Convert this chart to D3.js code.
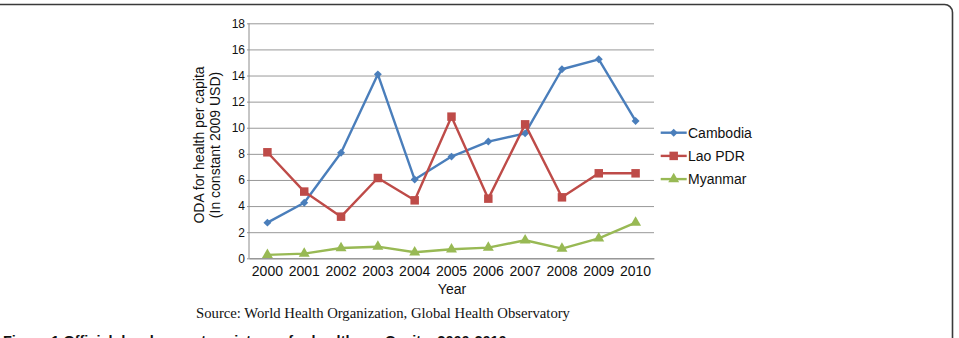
<!DOCTYPE html>
<html>
<head>
<meta charset="utf-8">
<script src="https://cdn.jsdelivr.net/npm/d3@7"></script>
<style>
  body { margin: 0; background: #fff; }
  svg { display: block; font-family: "Liberation Sans", Arial, sans-serif; }
  text { fill: #111; }
</style>
</head>
<body>
<svg id="chart"></svg>
<script>
const years = ["2000","2001","2002","2003","2004","2005","2006","2007","2008","2009","2010"];
const cambodia = [2.73, 4.26, 8.09, 14.09, 6.03, 7.79, 8.94, 9.57, 14.48, 15.24, 10.52];
const laoPDR   = [8.12, 5.11, 3.19, 6.15, 4.44, 10.85, 4.57, 10.26, 4.67, 6.51, 6.51];
const myanmar  = [0.26, 0.36, 0.79, 0.89, 0.46, 0.69, 0.82, 1.38, 0.74, 1.53, 2.73];
const seriesNames = ["Cambodia", "Lao PDR", "Myanmar"];
const yTicks = [0, 2, 4, 6, 8, 10, 12, 14, 16, 18];

const width = 959, height = 338;
const plotLeft = 249, plotRight = 654, plotTop = 23.3, plotBottom = 258.3;
const colors = ["#4a7ebb", "#be4b48", "#98b954"];
const symbols = [d3.symbolDiamond2, d3.symbolSquare, d3.symbolTriangle];
const symbolSizes = [40, 72, 52];

const svg = d3.select("#chart").attr("width", width).attr("height", height);

// frame of the figure box
svg.append("path")
  .attr("d", "M-5,4.5 L944,4.5 A8,8 0 0 1 952.5,12.5 L952.5,345")
  .attr("fill", "none").attr("stroke", "#3a3a3a").attr("stroke-width", 1.6);

const x = d3.scaleBand().domain(years).range([plotLeft, plotRight]).padding(0);
const y = d3.scaleLinear().domain([0, 18]).range([plotBottom, plotTop]);

// gridlines + y axis
svg.append("g")
  .attr("transform", `translate(${plotLeft},0)`)
  .call(d3.axisLeft(y).tickValues(yTicks).tickSize(-(plotRight - plotLeft)).tickPadding(4))
  .call(g => g.select(".domain").remove())
  .call(g => g.selectAll(".tick line").attr("stroke", "#8c8c8c").attr("stroke-width", 0.9).attr("x1", -2))
  .call(g => g.selectAll(".tick text").attr("font-size", 12).attr("fill", "#111"));

svg.append("line")
  .attr("x1", plotLeft).attr("x2", plotLeft).attr("y1", plotTop).attr("y2", plotBottom)
  .attr("stroke", "#8c8c8c").attr("stroke-width", 1);

// x axis
svg.append("g")
  .attr("transform", `translate(0,${plotBottom})`)
  .call(d3.axisBottom(x).tickSize(0).tickPadding(8))
  .call(g => g.select(".domain").attr("stroke", "#8c8c8c"))
  .call(g => g.selectAll(".tick text").attr("font-size", 14).attr("fill", "#111"));

// axis titles
svg.append("text").attr("x", 452).attr("y", 294).attr("text-anchor", "middle")
  .attr("font-size", 14).text("Year");

const yTitle = svg.append("text").attr("transform", "translate(0,145) rotate(-90)")
  .attr("text-anchor", "middle").attr("font-size", 14);
yTitle.append("tspan").attr("x", 0).attr("y", 204).text("ODA for health per capita");
yTitle.append("tspan").attr("x", 0).attr("y", 220).text("(In constant 2009 USD)");

// series
const allSeries = [cambodia, laoPDR, myanmar];
const line = d3.line().x((d, i) => x(years[i]) + x.bandwidth() / 2).y(d => y(d));

allSeries.forEach((vals, s) => {
  const g = svg.append("g");
  g.append("path").datum(vals).attr("d", line)
    .attr("fill", "none").attr("stroke", colors[s]).attr("stroke-width", 2.4)
    .attr("stroke-linejoin", "round");
  g.selectAll("path.m").data(vals).join("path").attr("class", "m")
    .attr("transform", (d, i) => `translate(${x(years[i]) + x.bandwidth() / 2},${y(d)})`)
    .attr("d", d3.symbol().type(symbols[s]).size(symbolSizes[s]))
    .attr("fill", colors[s]);
});

// legend
const legend = svg.append("g");
seriesNames.forEach((name, s) => {
  const ly = 132.7 + s * 23.2;
  legend.append("line").attr("x1", 660.7).attr("x2", 686.7).attr("y1", ly).attr("y2", ly)
    .attr("stroke", colors[s]).attr("stroke-width", 2.4);
  legend.append("path").attr("transform", `translate(673.7,${ly})`)
    .attr("d", d3.symbol().type(symbols[s]).size(symbolSizes[s]))
    .attr("fill", colors[s]);
  legend.append("text").attr("x", 688).attr("y", ly + 5).attr("font-size", 14).text(name);
});

// source note
svg.append("text").attr("x", 383).attr("y", 318).attr("text-anchor", "middle")
  .style("font-family", "'Liberation Serif', 'Times New Roman', serif").attr("font-size", 14.7)
  .text("Source: World Health Organization, Global Health Observatory");

// figure caption (cut at bottom, as in the source figure)
svg.append("text").attr("x", 3).attr("y", 345.5).attr("font-size", 14.5).attr("font-weight", "bold")
  .text("Figure 1 Official development assistance for health per Capita, 2000-2010");
</script>
</body>
</html>
